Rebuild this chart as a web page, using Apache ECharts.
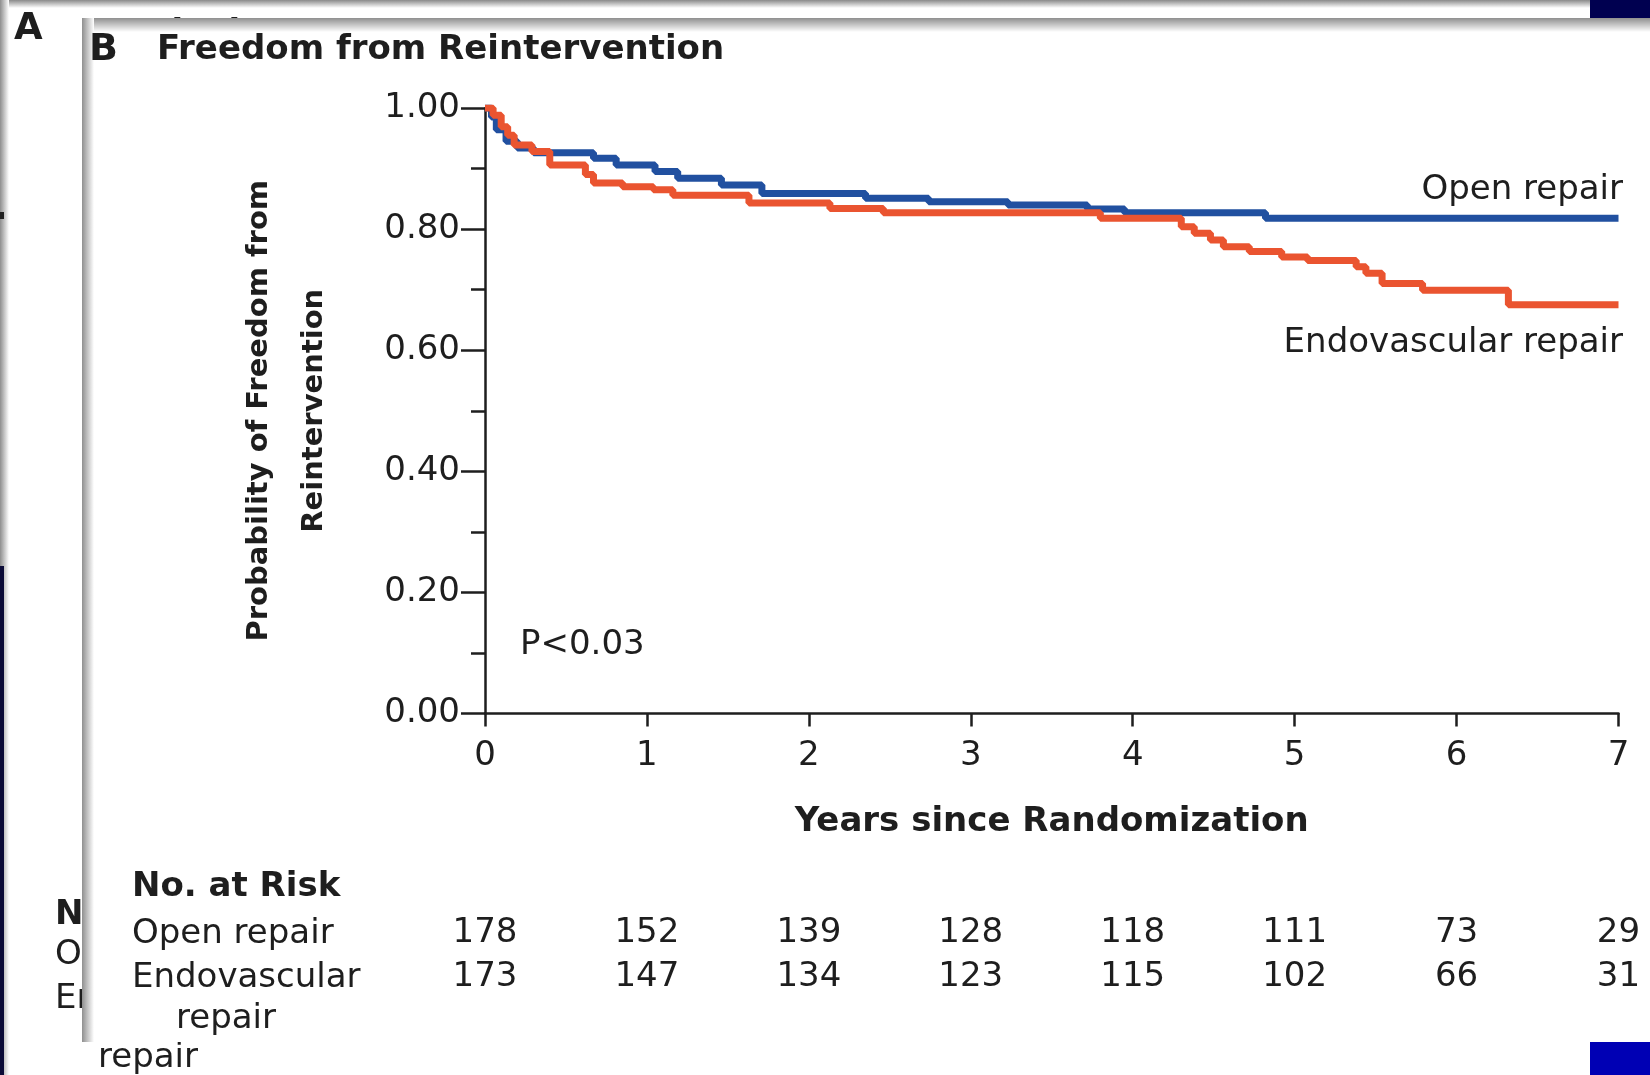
<!DOCTYPE html>
<html>
<head>
<meta charset="utf-8">
<title>Freedom from Reintervention</title>
<script src="https://cdn.jsdelivr.net/npm/echarts@6/dist/echarts.min.js"></script>
<style>
  html, body { margin: 0; padding: 0; background: #fff; }
  #chart { width: 1650px; height: 1075px; }
</style>
</head>
<body>
<div id="chart"></div>
<script>
// x ticks (years) and numbers at risk under each tick
var years = [0, 1, 2, 3, 4, 5, 6, 7];
var riskOpen = [178, 152, 139, 128, 118, 111, 73, 29];
var riskEndo = [173, 147, 134, 123, 115, 102, 66, 31];

// Kaplan-Meier steps (time of step, new probability)
var openT = [0, 0.04, 0.07, 0.13, 0.2, 0.3, 0.67, 0.81, 1.05, 1.19, 1.46, 1.71, 2.35, 2.74, 3.23, 3.72, 3.95, 4.82, 7];
var openP = [1.0, 0.985, 0.964, 0.945, 0.934, 0.926, 0.917, 0.906, 0.895, 0.884, 0.873, 0.859, 0.851, 0.845, 0.840, 0.833, 0.827, 0.818, 0.818];

var endoT = [0, 0.05, 0.1, 0.14, 0.18, 0.29, 0.4, 0.62, 0.67, 0.85, 1.04, 1.16, 1.63, 2.13, 2.46, 3.8, 4.3, 4.38, 4.48, 4.56, 4.72, 4.92, 5.08, 5.38, 5.44, 5.54, 5.79, 6.32, 7];
var endoP = [1.0, 0.988, 0.969, 0.955, 0.939, 0.928, 0.906, 0.89, 0.876, 0.870, 0.865, 0.856, 0.843, 0.834, 0.827, 0.818, 0.804, 0.793, 0.782, 0.771, 0.763, 0.754, 0.748, 0.738, 0.727, 0.71, 0.699, 0.675, 0.675];

var FONT = 'DejaVu Sans';
var ink = '#1e1e1e';
var fs = 34;

function pairs(t, p) {
    var out = [];
    for (var i = 0; i < t.length; i++) {
        out.push([t[i], p[i]]);
    }
    return out;
}

function hGrad(c1, c2) {
    return new echarts.graphic.LinearGradient(0, 0, 1, 0, [{offset: 0, color: c1}, {offset: 1, color: c2}]);
}
function vGrad(c1, c2) {
    return new echarts.graphic.LinearGradient(0, 0, 0, 1, [{offset: 0, color: c1}, {offset: 1, color: c2}]);
}

function txt(text, x, y, size, opts) {
    opts = opts || {};
    return {
        type: 'text',
        z: opts.z == null ? 10 : opts.z,
        x: x, y: y,
        style: {
            text: text,
            font: (opts.bold ? 'bold ' : '') + size + 'px "' + FONT + '"',
            fill: opts.color || ink,
            align: opts.align || 'left',
            verticalAlign: 'middle'
        }
    };
}

var chart = echarts.init(document.getElementById('chart'));

var hiddenAxis = {
    type: 'value', min: 0, max: 7, interval: 1, position: 'bottom',
    axisLine: {show: false}, axisTick: {show: false}, splitLine: {show: false}
};

chart.setOption({
    backgroundColor: '#ffffff',
    animation: false,
    grid: {left: 485, right: 31.5, top: 108, bottom: 361.5},
    xAxis: [
        {
            type: 'value', min: 0, max: 7, interval: 1,
            name: 'Years since Randomization',
            nameLocation: 'middle', nameGap: 92,
            nameTextStyle: {fontFamily: FONT, fontWeight: 'bold', fontSize: 34, color: ink},
            axisLine: {lineStyle: {color: ink, width: 2.5}},
            axisTick: {length: 13, lineStyle: {color: ink, width: 2.5}},
            splitLine: {show: false},
            axisLabel: {margin: 26, fontFamily: FONT, fontSize: fs, color: ink,
                formatter: function (v) { return years[Math.round(v)]; }}
        },
        // number at risk rows drawn as extra axes under the plot
        Object.assign({}, hiddenAxis, {
            offset: 195,
            axisLabel: {margin: 8, fontFamily: FONT, fontSize: fs, color: ink,
                formatter: function (v) { return riskOpen[Math.round(v)]; }}
        }),
        Object.assign({}, hiddenAxis, {
            offset: 239,
            axisLabel: {margin: 8, fontFamily: FONT, fontSize: fs, color: ink,
                formatter: function (v) { return riskEndo[Math.round(v)]; }}
        })
    ],
    yAxis: {
        type: 'value', min: 0, max: 1, interval: 0.2,
        name: 'Probability of Freedom from\nReintervention',
        nameLocation: 'middle', nameRotate: 90, nameGap: 143,
        nameTextStyle: {fontFamily: FONT, fontWeight: 'bold', fontSize: 29, color: ink, lineHeight: 55},
        axisLine: {show: true, lineStyle: {color: ink, width: 2.5}},
        axisTick: {show: true, length: 24, lineStyle: {color: ink, width: 2.5}},
        minorTick: {show: true, splitNumber: 2, length: 14, lineStyle: {color: ink, width: 2.5}},
        splitLine: {show: false},
        axisLabel: {margin: 25, fontFamily: FONT, fontSize: fs, color: ink,
            formatter: function (v) { return v.toFixed(2); }}
    },
    series: [
        {
            name: 'Open repair', type: 'line', step: 'end', showSymbol: false,
            data: pairs(openT, openP),
            lineStyle: {color: '#2150a0', width: 7},
            itemStyle: {color: '#2150a0'}
        },
        {
            name: 'Endovascular repair', type: 'line', step: 'end', showSymbol: false,
            data: pairs(endoT, endoP),
            lineStyle: {color: '#ea5430', width: 7},
            itemStyle: {color: '#ea5430'}
        }
    ],
    graphic: [
        // slide behind: panel A
        {type: 'rect', z: -30, shape: {x: 0, y: 0, width: 1650, height: 1075}, style: {fill: '#ffffff'}},
        {type: 'rect', z: -29, shape: {x: 0, y: 0, width: 1650, height: 8}, style: {fill: vGrad('#8a8a8a', '#ffffff')}},
        {type: 'rect', z: -29, shape: {x: 0, y: 0, width: 9, height: 1075}, style: {fill: hGrad('#8e8e8e', '#ffffff')}},
        {type: 'rect', z: -28, shape: {x: 0, y: 566, width: 4, height: 509}, style: {fill: '#0c0c38'}},
        {type: 'rect', z: -28, shape: {x: 0, y: 212, width: 4, height: 7}, style: {fill: '#222'}},
        txt('A', 14, 29, 37, {bold: true, z: -25}),
        txt('Survival', 84, 34, 34, {bold: true, z: -25}),
        txt('No. at Risk', 55, 915, fs, {bold: true, z: -25}),
        txt('Open repair', 55, 955, fs, {z: -25}),
        txt('Endovascular', 55, 999, fs, {z: -25}),
        txt('repair', 98, 1058, fs, {z: -25}),
        // panel B on top of it
        {type: 'rect', z: -20, shape: {x: 82, y: 18, width: 1568, height: 1024}, style: {fill: '#ffffff'}},
        {type: 'rect', z: -19, shape: {x: 82, y: 18, width: 1568, height: 14}, style: {fill: vGrad('#8f8f8f', '#ffffff')}},
        {type: 'rect', z: -19, shape: {x: 82, y: 18, width: 12, height: 1024}, style: {fill: hGrad('#8f8f8f', '#ffffff')}},
        {type: 'rect', z: -18, shape: {x: 1590, y: 0, width: 60, height: 18}, style: {fill: '#000050'}},
        {type: 'rect', z: -18, shape: {x: 1590, y: 1042, width: 60, height: 33}, style: {fill: '#0000b4'}},
        // panel B texts
        txt('B', 89, 50, 38, {bold: true}),
        txt('Freedom from Reintervention', 157, 50, 34, {bold: true}),
        txt('Open repair', 1623, 190, fs, {align: 'right'}),
        txt('Endovascular repair', 1623, 343, fs, {align: 'right'}),
        txt('P<0.03', 520, 645, fs),
        txt('No. at Risk', 132, 887, fs, {bold: true}),
        txt('Open repair', 132, 934, fs),
        txt('Endovascular', 132, 978, fs),
        txt('repair', 176, 1019, fs)
    ]
});

window.addEventListener('resize', function () {
    chart.resize();
});
</script>
</body>
</html>
